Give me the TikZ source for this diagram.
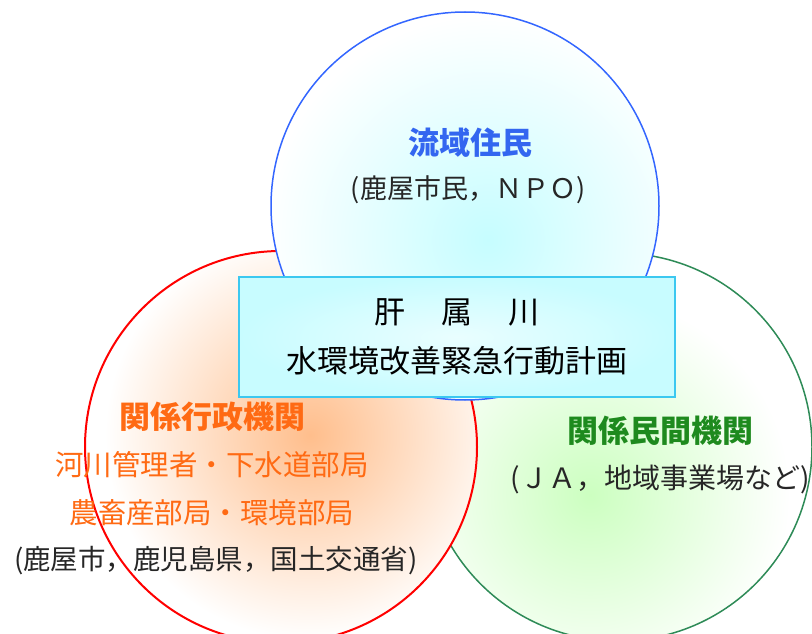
\documentclass[tikz,border=0pt]{standalone}
\usepackage{fontspec}
\newfontfamily\jp{Noto Sans CJK JP}
\definecolor{bluel}{HTML}{3366FF}
\definecolor{redl}{HTML}{FF0000}
\definecolor{greenl}{HTML}{2E8B57}
\definecolor{cyanf}{HTML}{C6FDFF}
\definecolor{orangef}{HTML}{FFBE8C}
\definecolor{greenf}{HTML}{CCFFC0}
\definecolor{boxline}{HTML}{3CC8F0}
\definecolor{boxfill}{HTML}{C8FCFF}
\definecolor{tblue}{HTML}{3366F0}
\definecolor{torange}{HTML}{FF6A13}
\definecolor{tgreen}{HTML}{1E8A1E}
\tikzset{
  title/.style={font=\jp\bfseries\fontsize{31}{31}\selectfont, inner sep=0pt},
  sub/.style={font=\jp\fontsize{27}{27}\selectfont, inner sep=0pt, text=black!85},
  orng/.style={font=\jp\fontsize{28.5}{28.5}\selectfont, inner sep=0pt, text=torange},
  boxtext/.style={font=\jp\fontsize{31}{31}\selectfont, inner sep=0pt, text=black},
  planbox/.style={draw=boxline, line width=1.6pt, inner color=white!60!boxfill, outer color=boxfill, minimum width=436pt, minimum height=120pt, inner sep=0pt}
}
\begin{document}
\begin{tikzpicture}[x=1pt,y=-1pt]
\useasboundingbox (0,0) rectangle (812,634);
% green circle
\fill[white] (618,447) circle (194pt);
\begin{scope}
\clip (618,447) circle (194pt);
\shade[inner color=greenf, outer color=white] (590,495) circle (200pt);
\end{scope}
\draw[greenl, line width=1.5pt] (618,447) circle (194pt);
% red circle
\fill[white] (281,447) circle (196pt);
\begin{scope}
\clip (281,447) circle (196pt);
\shade[inner color=orangef, outer color=white] (310,435) circle (205pt);
\end{scope}
\draw[redl, line width=2pt] (281,447) circle (196pt);
% blue circle
\fill[white] (465,206) circle (194pt);
\begin{scope}
\clip (465,206) circle (194pt);
\shade[inner color=cyanf, outer color=white] (488,240) circle (225pt);
\end{scope}
\draw[bluel, line width=1.5pt] (465,206) circle (194pt);
% central box
\node[planbox] (plan) at (457,337) {};
\node[boxtext] (t1) at (457,312) {肝\hspace{36pt}属\hspace{36pt}川};
\node[boxtext] (t2) at (457,361) {水環境改善緊急行動計画};
% top
\node[title, text=tblue] (a1) at (470,143) {流域住民};
\node[sub] (a2) at (468,190) {(鹿屋市民，ＮＰＯ)};
% left
\node[title, text=torange] (b1) at (212,417) {関係行政機関};
\node[orng] (b2) at (212,465) {河川管理者・下水道部局};
\node[orng] (b3) at (212,513) {農畜産部局・環境部局};
\node[sub, font=\jp\fontsize{27.5}{27.5}\selectfont] (b4) at (216,561) {(鹿屋市，鹿児島県，国土交通省)};
% right
\node[title, text=tgreen] (c1) at (660,431) {関係民間機関};
\node[sub, font=\jp\fontsize{28}{28}\selectfont] (c2) at (660,479) {(ＪＡ，地域事業場など)};
\end{tikzpicture}
\end{document}
